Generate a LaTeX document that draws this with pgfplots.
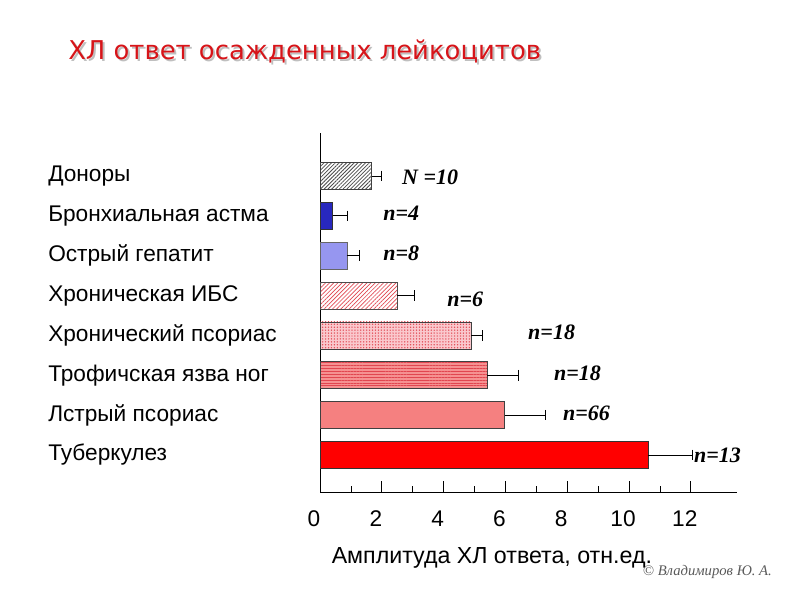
\documentclass[border=0pt]{standalone}
\usepackage{fontspec}
\setmainfont{Liberation Sans}
\newfontfamily\titlefont{DejaVu Sans}
\newfontfamily\nfont{Liberation Serif}
\usepackage{pgfplots}
\pgfplotsset{compat=1.18}
\usetikzlibrary{patterns.meta}
\definecolor{ttlred}{RGB}{215,20,25}
\definecolor{darkblue}{RGB}{40,40,190}
\definecolor{periw}{RGB}{150,150,240}
\definecolor{pinkA}{RGB}{250,200,205}
\definecolor{pinkB}{RGB}{245,150,155}
\definecolor{pinkC}{RGB}{245,145,145}
\definecolor{pinkD}{RGB}{245,128,128}
\definecolor{redA}{RGB}{225,70,80}
\definecolor{barred}{RGB}{255,0,0}
\begin{document}
\begin{tikzpicture}
\useasboundingbox (0,0) rectangle (600pt,450pt);
\begin{axis}[
  at={(240pt,81pt)}, anchor=south west,
  scale only axis, width=312.9pt, height=269.25pt,
  xmin=0, xmax=13.5, ymin=0.072, ymax=9.079,
  axis x line=bottom, axis y line=left,
  axis line style={-, black, line width=0.7pt},
  xbar, bar width=20.25pt, bar shift=0pt,
  xtick={0,2,...,12}, minor xtick={1,3,...,11},
  tick align=inside, major tick length=8pt, minor tick length=4.5pt,
  x tick style={black, line width=0.6pt},
  y tick style={draw=none},
  ytick={1,...,8},
  yticklabels={Туберкулез, Лстрый псориас, Трофичская язва ног, Хронический псориас, Хроническая ИБС, Острый гепатит, Бронхиальная астма, Доноры},
  yticklabel style={anchor=west, inner sep=0pt, xshift=-204pt, font=\fontsize{17}{20}\selectfont},
  xticklabel style={font=\fontsize{17}{20}\selectfont, yshift=-10.5pt, xshift=-4.5pt},
  /pgf/number format/assume math mode=true,
  xlabel={Амплитуда ХЛ ответа, отн.ед.},
  xlabel style={at={(axis description cs:0.412,-0.184)}, anchor=center, font=\fontsize{17.4}{20}\selectfont},
  clip=false,
  error bars/x dir=plus, error bars/x explicit,
  error bars/error bar style={black, line width=0.6pt},
  error bars/error mark options={black, line width=0.6pt, mark size=4pt, rotate=90},
]
\addplot[draw=black!75, line width=0.5pt, fill=white, postaction={pattern={Lines[angle=45,distance=2pt,line width=0.6pt]}, pattern color=black!70}]
  coordinates {(1.67,8) +- (0.32,0)};
\addplot[draw=black!80, line width=0.5pt, fill=darkblue]
  coordinates {(0.41,7) +- (0.47,0)};
\addplot[draw=black!60, line width=0.5pt, fill=periw]
  coordinates {(0.87,6) +- (0.40,0)};
\addplot[draw=black!70, line width=0.5pt, fill=white, postaction={pattern={Lines[angle=45,distance=2.2pt,line width=0.5pt]}, pattern color=redA}]
  coordinates {(2.50,5) +- (0.56,0)};
\addplot[draw=black!75, line width=0.5pt, fill=pinkA, postaction={pattern={Dots[distance=2.2pt,radius=0.55pt]}, pattern color=redA}]
  coordinates {(4.89,4) +- (0.35,0)};
\addplot[draw=black!75, line width=0.5pt, fill=pinkC, postaction={pattern={Lines[angle=0,distance=2.2pt,line width=0.6pt]}, pattern color=redA}]
  coordinates {(5.41,3) +- (1.02,0)};
\addplot[draw=black!75, line width=0.5pt, fill=pinkD]
  coordinates {(5.98,2) +- (1.30,0)};
\addplot[draw=black!80, line width=0.5pt, fill=barred]
  coordinates {(10.62,1) +- (1.42,0)};
\begin{scope}[every node/.style={anchor=west, inner sep=0pt, font=\nfont\bfseries\itshape\fontsize{16.5}{19}\selectfont}]
\node at (axis cs:2.65,7.97) {N =10};
\node at (axis cs:2.04,7.07) {n=4};
\node at (axis cs:2.04,6.07) {n=8};
\node at (axis cs:4.11,4.91) {n=6};
\node at (axis cs:6.73,4.09) {n=18};
\node at (axis cs:7.57,3.06) {n=18};
\node at (axis cs:7.86,2.05) {n=66};
\node at (axis cs:12.10,1.00) {n=13};
\end{scope}
\end{axis}
\node[anchor=west, inner sep=0pt, text=black!25, font=\titlefont\fontsize{19.4}{24}\selectfont] at (52.5pt,410pt) {ХЛ ответ осажденных лейкоцитов};
\node[anchor=west, inner sep=0pt, text=ttlred, font=\titlefont\fontsize{19.4}{24}\selectfont] at (51pt,411.5pt) {ХЛ ответ осажденных лейкоцитов};
\node[anchor=west, inner sep=0pt, text=black!65, font=\nfont\itshape\fontsize{11}{13}\selectfont] at (482pt,21pt) {© Владимиров Ю. А.};
\end{tikzpicture}
\end{document}
